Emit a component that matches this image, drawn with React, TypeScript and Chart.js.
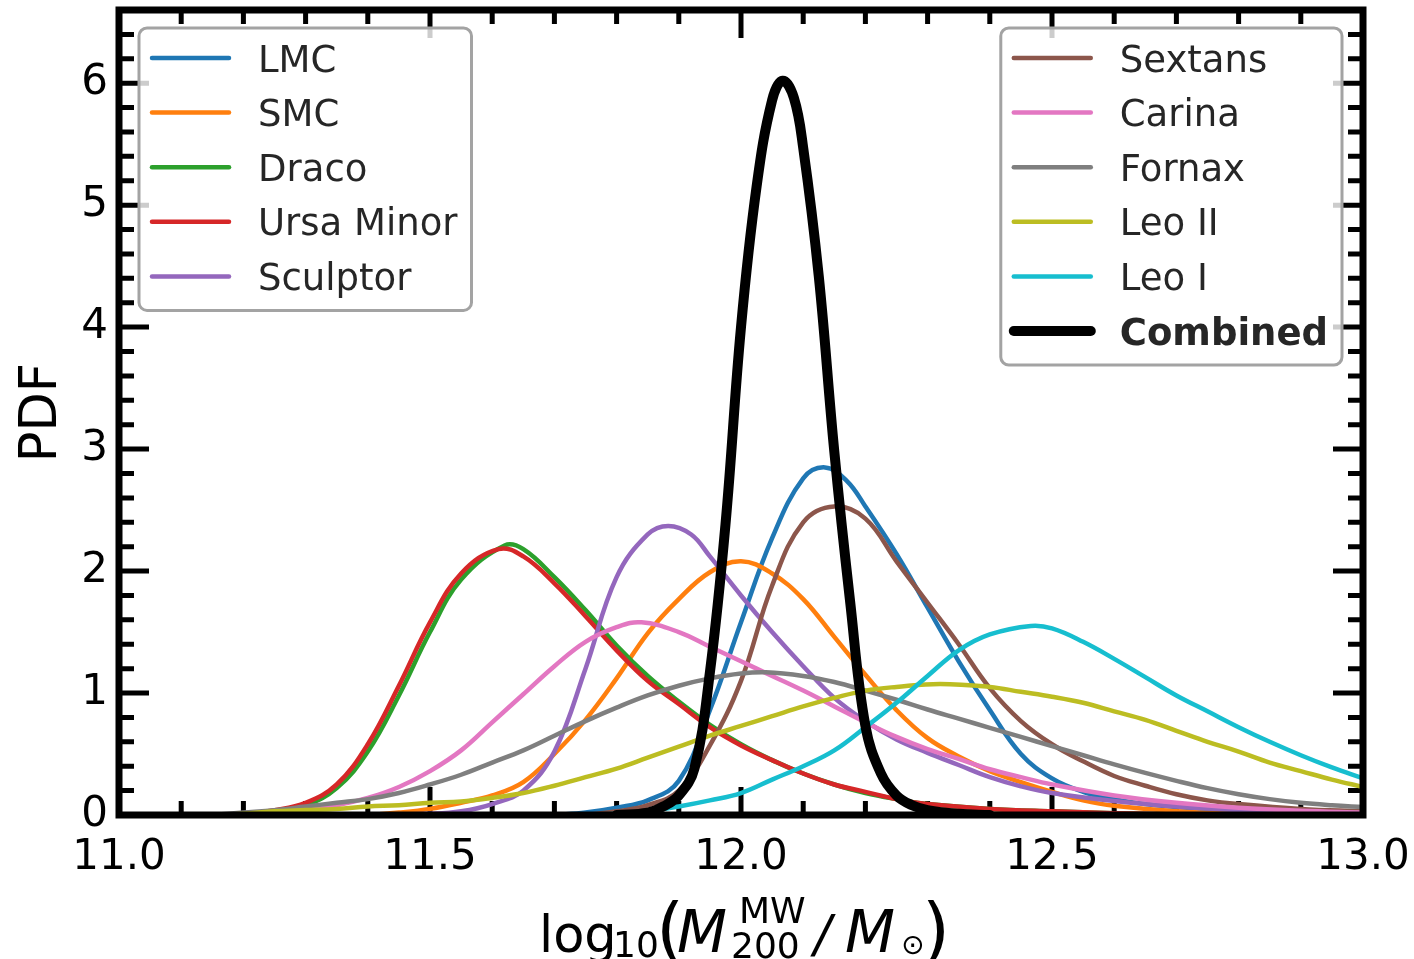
import { useEffect, useRef } from "react";
import { Chart, registerables } from "chart.js";

Chart.register(...registerables);

const FONT = "'DejaVu Sans', sans-serif";

// ---------- data ----------
const seriesNames = ["LMC", "SMC", "Draco", "Ursa Minor", "Sculptor", "Sextans", "Carina", "Fornax", "Leo II", "Leo I", "Combined"];
const seriesColors = ["#1f77b4", "#ff7f0e", "#2ca02c", "#d62728", "#9467bd", "#8c564b", "#e377c2", "#7f7f7f", "#bcbd22", "#17becf", "#000000"];

const lmc = [[11.70, 0], [11.75, 0.02], [11.80, 0.06], [11.85, 0.12], [11.90, 0.28], [11.95, 0.86], [12.00, 1.58], [12.05, 2.27], [12.10, 2.76], [12.135, 2.85], [12.17, 2.74], [12.20, 2.53], [12.25, 2.14], [12.30, 1.70], [12.35, 1.26], [12.40, 0.86], [12.45, 0.50], [12.50, 0.30], [12.55, 0.19], [12.60, 0.13], [12.65, 0.09], [12.70, 0.065], [12.80, 0.03], [12.90, 0.01], [13.00, 0]];
const smc = [[11.40, 0], [11.45, 0.02], [11.50, 0.05], [11.55, 0.10], [11.60, 0.16], [11.65, 0.27], [11.70, 0.50], [11.75, 0.78], [11.80, 1.12], [11.85, 1.49], [11.90, 1.77], [11.95, 1.99], [12.00, 2.08], [12.05, 1.98], [12.10, 1.77], [12.15, 1.46], [12.20, 1.15], [12.25, 0.86], [12.30, 0.63], [12.35, 0.48], [12.40, 0.36], [12.45, 0.27], [12.50, 0.19], [12.55, 0.12], [12.60, 0.075], [12.70, 0.03], [12.80, 0.01], [12.90, 0]];
const draco = [[11.15, 0], [11.20, 0.01], [11.25, 0.03], [11.30, 0.08], [11.35, 0.22], [11.40, 0.52], [11.45, 0.98], [11.50, 1.50], [11.55, 1.93], [11.62, 2.21], [11.65, 2.18], [11.70, 1.95], [11.75, 1.68], [11.80, 1.39], [11.85, 1.14], [11.90, 0.93], [11.95, 0.74], [12.00, 0.58], [12.05, 0.45], [12.10, 0.34], [12.15, 0.25], [12.20, 0.18], [12.25, 0.13], [12.30, 0.09], [12.40, 0.05], [12.50, 0.03], [12.60, 0.015], [12.70, 0.005], [12.80, 0]];
const ursaMinor = [[11.15, 0], [11.20, 0.01], [11.25, 0.04], [11.30, 0.10], [11.35, 0.25], [11.40, 0.58], [11.45, 1.06], [11.50, 1.58], [11.55, 1.98], [11.61, 2.18], [11.65, 2.12], [11.70, 1.90], [11.75, 1.63], [11.80, 1.35], [11.85, 1.10], [11.90, 0.91], [11.95, 0.72], [12.00, 0.57], [12.05, 0.45], [12.10, 0.34], [12.15, 0.25], [12.20, 0.19], [12.25, 0.13], [12.30, 0.09], [12.40, 0.05], [12.50, 0.03], [12.60, 0.015], [12.70, 0.005], [12.80, 0]];
const sculptor = [[11.40, 0], [11.50, 0.01], [11.55, 0.03], [11.60, 0.09], [11.65, 0.20], [11.70, 0.52], [11.75, 1.20], [11.80, 1.95], [11.85, 2.30], [11.883, 2.37], [11.92, 2.30], [11.95, 2.12], [12.00, 1.80], [12.05, 1.50], [12.10, 1.22], [12.15, 0.96], [12.20, 0.77], [12.25, 0.62], [12.30, 0.51], [12.35, 0.41], [12.40, 0.31], [12.45, 0.235], [12.50, 0.18], [12.60, 0.115], [12.70, 0.07], [12.80, 0.04], [12.90, 0.02], [13.00, 0.01]];
const sextans = [[11.75, 0], [11.80, 0.03], [11.85, 0.08], [11.90, 0.20], [11.95, 0.57], [12.00, 1.10], [12.05, 1.88], [12.10, 2.40], [12.15, 2.53], [12.20, 2.43], [12.25, 2.08], [12.30, 1.74], [12.35, 1.40], [12.40, 1.04], [12.45, 0.77], [12.50, 0.58], [12.55, 0.44], [12.60, 0.32], [12.65, 0.24], [12.70, 0.17], [12.75, 0.12], [12.80, 0.09], [12.90, 0.05], [13.00, 0.03]];
const carina = [[11.20, 0], [11.25, 0.01], [11.30, 0.04], [11.35, 0.08], [11.40, 0.14], [11.45, 0.23], [11.50, 0.36], [11.55, 0.53], [11.60, 0.76], [11.65, 0.99], [11.70, 1.22], [11.75, 1.42], [11.80, 1.54], [11.84, 1.58], [11.90, 1.50], [11.95, 1.38], [12.00, 1.26], [12.05, 1.14], [12.10, 1.02], [12.15, 0.89], [12.20, 0.76], [12.25, 0.64], [12.30, 0.54], [12.35, 0.46], [12.40, 0.375], [12.45, 0.31], [12.50, 0.25], [12.60, 0.16], [12.70, 0.10], [12.80, 0.06], [12.90, 0.035], [13.00, 0.02]];
const fornax = [[11.15, 0], [11.20, 0.02], [11.25, 0.04], [11.30, 0.07], [11.35, 0.10], [11.40, 0.13], [11.45, 0.18], [11.50, 0.25], [11.55, 0.33], [11.60, 0.43], [11.65, 0.53], [11.70, 0.65], [11.75, 0.77], [11.80, 0.88], [11.85, 0.98], [11.90, 1.06], [11.95, 1.12], [12.00, 1.16], [12.04, 1.17], [12.10, 1.14], [12.15, 1.09], [12.20, 1.02], [12.25, 0.945], [12.30, 0.865], [12.35, 0.79], [12.40, 0.715], [12.45, 0.64], [12.50, 0.565], [12.55, 0.49], [12.60, 0.415], [12.65, 0.345], [12.70, 0.28], [12.75, 0.22], [12.80, 0.17], [12.85, 0.13], [12.90, 0.10], [12.95, 0.08], [13.00, 0.065]];
const leoII = [[11.15, 0], [11.20, 0.01], [11.25, 0.03], [11.30, 0.04], [11.35, 0.05], [11.40, 0.07], [11.45, 0.08], [11.50, 0.10], [11.55, 0.11], [11.60, 0.14], [11.65, 0.18], [11.70, 0.24], [11.75, 0.31], [11.80, 0.38], [11.85, 0.47], [11.90, 0.56], [11.95, 0.65], [12.00, 0.73], [12.05, 0.81], [12.10, 0.89], [12.15, 0.96], [12.20, 1.02], [12.25, 1.05], [12.32, 1.075], [12.40, 1.05], [12.45, 1.01], [12.50, 0.97], [12.55, 0.92], [12.60, 0.85], [12.65, 0.78], [12.70, 0.69], [12.75, 0.60], [12.80, 0.52], [12.85, 0.43], [12.90, 0.36], [12.95, 0.29], [13.00, 0.23]];
const leoI = [[11.75, 0], [11.80, 0.01], [11.85, 0.03], [11.90, 0.07], [11.95, 0.12], [12.00, 0.18], [12.05, 0.29], [12.10, 0.40], [12.15, 0.53], [12.20, 0.72], [12.25, 0.92], [12.30, 1.14], [12.35, 1.35], [12.40, 1.48], [12.466, 1.55], [12.50, 1.53], [12.55, 1.42], [12.60, 1.28], [12.65, 1.13], [12.70, 0.98], [12.75, 0.85], [12.80, 0.72], [12.85, 0.60], [12.90, 0.49], [12.95, 0.39], [13.00, 0.30]];
const combined = [[11.80, 0], [11.85, 0.02], [11.875, 0.07], [11.90, 0.16], [11.925, 0.38], [11.95, 1.17], [11.975, 2.38], [12.00, 4.00], [12.025, 5.15], [12.05, 5.86], [12.067, 6.02], [12.085, 5.88], [12.10, 5.47], [12.125, 4.42], [12.15, 2.98], [12.175, 1.77], [12.20, 0.73], [12.225, 0.34], [12.25, 0.16], [12.275, 0.08], [12.30, 0.04], [12.35, 0.01], [12.40, 0]];

const seriesData = [lmc, smc, draco, ursaMinor, sculptor, sextans, carina, fornax, leoII, leoI, combined];

// axis settings
const xMin = 11.0;
const xMax = 13.0;
const yMin = 0;
const yMax = 6.6;
const xMajorStep = 0.5;
const xMinorStep = 0.1;
const yMajorStep = 1;
const yMinorStep = 0.2;

const leftLegend = [0, 1, 2, 3, 4];
const rightLegend = [5, 6, 7, 8, 9, 10];

function drawLegend(ctx: CanvasRenderingContext2D, idx: number[], anchorX: number, top: number, alignRight: boolean) {
  const rowGap = 54.6;
  const padL = 13;
  const handleLen = 77;
  const textGap = 29;
  const padR = 14;
  let maxW = 0;
  idx.forEach((i) => {
    ctx.font = (seriesNames[i] === "Combined" ? "bold " : "") + `37px ${FONT}`;
    maxW = Math.max(maxW, ctx.measureText(seriesNames[i]).width);
  });
  const w = padL + handleLen + textGap + maxW + padR;
  const h = 30 + (idx.length - 1) * rowGap + 34;
  const left = alignRight ? anchorX - w : anchorX;
  ctx.save();
  ctx.beginPath();
  (ctx as any).roundRect(left, top, w, h, 8);
  ctx.fillStyle = "rgba(255,255,255,0.8)";
  ctx.fill();
  ctx.lineWidth = 3;
  ctx.strokeStyle = "#a3a3a3";
  ctx.stroke();
  idx.forEach((i, r) => {
    const yy = top + 30 + r * rowGap;
    ctx.beginPath();
    ctx.lineCap = "round";
    ctx.strokeStyle = seriesColors[i];
    ctx.lineWidth = seriesNames[i] === "Combined" ? 10 : 4.5;
    ctx.moveTo(left + padL, yy);
    ctx.lineTo(left + padL + handleLen, yy);
    ctx.stroke();
    ctx.font = (seriesNames[i] === "Combined" ? "bold " : "") + `37px ${FONT}`;
    ctx.fillStyle = "#262626";
    ctx.textAlign = "left";
    ctx.textBaseline = "alphabetic";
    ctx.fillText(seriesNames[i], left + padL + handleLen + textGap, yy + 13.5);
  });
  ctx.restore();
}

const framePlugin = {
  id: "frame",
  beforeDatasetsDraw(chart: any) {
    const { ctx, chartArea: a, scales } = chart;
    const x = scales.x;
    const y = scales.y;
    ctx.save();
    ctx.strokeStyle = "#000";
    ctx.lineWidth = 5;
    ctx.lineCap = "butt";
    const nx = Math.round((xMax - xMin) / xMinorStep);
    const perMajorX = Math.round(xMajorStep / xMinorStep);
    for (let i = 0; i <= nx; i++) {
      const px = x.getPixelForValue(xMin + i * xMinorStep);
      const len = i % perMajorX === 0 ? 28 : 14;
      ctx.beginPath();
      ctx.moveTo(px, a.bottom);
      ctx.lineTo(px, a.bottom - len);
      ctx.moveTo(px, a.top);
      ctx.lineTo(px, a.top + len);
      ctx.stroke();
    }
    const ny = Math.round((yMax - yMin) / yMinorStep);
    const perMajorY = Math.round(yMajorStep / yMinorStep);
    for (let i = 0; i <= ny; i++) {
      const py = y.getPixelForValue(yMin + i * yMinorStep);
      const len = i % perMajorY === 0 ? 30 : 15;
      ctx.beginPath();
      ctx.moveTo(a.left, py);
      ctx.lineTo(a.left + len, py);
      ctx.moveTo(a.right, py);
      ctx.lineTo(a.right - len, py);
      ctx.stroke();
    }
    ctx.restore();
  },
  afterDatasetsDraw(chart: any) {
    const { ctx, chartArea: a } = chart;
    ctx.save();
    ctx.strokeStyle = "#000";
    ctx.lineWidth = 7;
    ctx.lineJoin = "miter";
    ctx.strokeRect(a.left, a.top, a.right - a.left, a.bottom - a.top);
    ctx.restore();
  },
  afterDraw(chart: any) {
    const { ctx, chartArea: a } = chart;
    drawLegend(ctx, leftLegend, a.left + 20, a.top + 18, false);
    drawLegend(ctx, rightLegend, a.right - 21, a.top + 18, true);

    // x axis label: log10( M_200^MW / M_sun )
    const cx = (a.left + a.right) / 2;
    const base = a.bottom + 137;
    const pieces: [string, number, number, number, boolean][] = [
      ["log", -202, 0, 51, false],
      ["10", -128, 5, 36, false],
      ["(", -85, 2, 72, false],
      ["M", -64, 0, 58, true],
      ["MW", -2, -29, 36, false],
      ["200", -10, 6, 36, false],
      ["/", 73, 0, 51, true],
      ["M", 104, 0, 58, true],
      ["\u2299", 160, 2, 28, false],
      [")", 181, 2, 72, false],
    ];
    ctx.save();
    ctx.fillStyle = "#000";
    ctx.textAlign = "left";
    ctx.textBaseline = "alphabetic";
    pieces.forEach(([t, dx, dy, size, it]) => {
      ctx.font = (it ? "oblique " : "") + `${size}px ${FONT}`;
      ctx.fillText(t, cx + dx, base + dy);
    });
    ctx.restore();
  },
};

export default function App() {
  const ref = useRef<HTMLCanvasElement | null>(null);
  useEffect(() => {
    document.body.style.margin = "0";
    const canvas = ref.current;
    if (!canvas) return;
    const n = seriesData.length;
    const datasets = seriesData.map((pts, i) => ({
      label: seriesNames[i],
      data: pts.map(([x, y]) => ({ x, y })),
      borderColor: seriesColors[i],
      backgroundColor: seriesColors[i],
      borderWidth: seriesNames[i] === "Combined" ? 10 : 4.5,
      pointRadius: 0,
      pointHoverRadius: 0,
      fill: false,
      tension: 0.4,
      borderJoinStyle: "round" as const,
      borderCapStyle: "round" as const,
      order: n - i,
    }));
    const chart = new Chart(canvas, {
      type: "line",
      data: { datasets },
      options: {
        animation: false,
        responsive: false,
        devicePixelRatio: 1,
        events: [],
        layout: { autoPadding: false, padding: { left: 0, top: 10, right: 51, bottom: 0 } },
        plugins: { legend: { display: false }, tooltip: { enabled: false }, title: { display: false } },
        scales: {
          x: {
            type: "linear",
            min: xMin,
            max: xMax,
            ticks: {
              stepSize: xMajorStep,
              callback: (v: any) => Number(v).toFixed(1),
              font: { family: FONT, size: 42 },
              color: "#000",
              padding: 18,
              maxRotation: 0,
              autoSkip: false,
            },
            grid: { display: false, drawTicks: false },
            border: { display: false },
            afterFit: (s: any) => {
              s.height = 144;
              s.paddingLeft = 0;
              s.paddingRight = 0;
              s.paddingTop = 0;
              s.paddingBottom = 0;
            },
          },
          y: {
            type: "linear",
            min: yMin,
            max: yMax,
            ticks: {
              stepSize: yMajorStep,
              includeBounds: false,
              callback: (v: any) => String(v),
              font: { family: FONT, size: 42 },
              color: "#000",
              padding: 11,
            },
            grid: { display: false, drawTicks: false },
            border: { display: false },
            title: { display: true, text: "PDF", font: { family: FONT, size: 51 }, color: "#000", padding: { top: 12, bottom: 0 } },
            afterFit: (s: any) => {
              s.width = 119;
              s.paddingLeft = 0;
              s.paddingRight = 0;
              s.paddingTop = 0;
              s.paddingBottom = 0;
            },
          },
        },
      },
      plugins: [framePlugin],
    } as any);
    return () => chart.destroy();
  }, []);
  return (
    <div style={{ width: 1414, height: 959 }}>
      <canvas ref={ref} width={1414} height={959} style={{ display: "block" }} />
    </div>
  );
}
